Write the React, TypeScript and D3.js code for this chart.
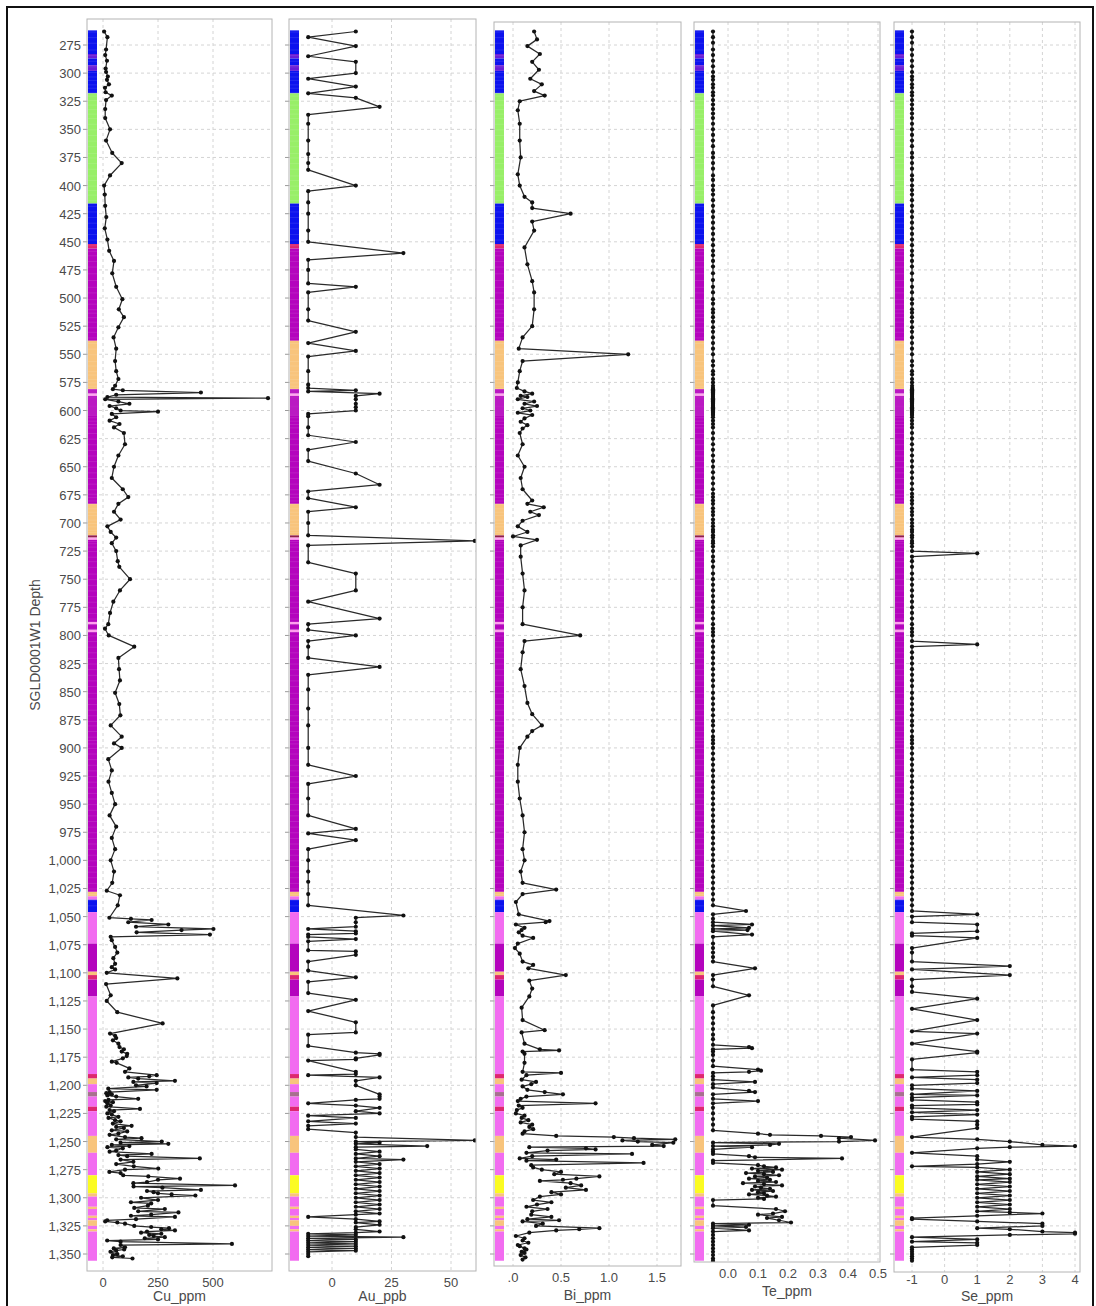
import React, { useEffect, useRef } from 'react';
import * as d3 from 'd3';

const W = 1096, H = 1306;
const FONT = '"Liberation Sans", Arial, sans-serif';

// ---- data: [depth, value] ----
const CU: [number, number][] = [
  [263,5],[268,20],[279,14],[284,10],[289,18],[296,12],[299,14],[303,22],[306,18],[310,27],[313,9],[317,12],[320,40],[324,14],[332,10],[340,10],[350,32],[360,14],[371,42],[380,85],[391,32],[400,5],[408,8],[418,10],[428,15],[438,8],[448,20],[458,28],[467,50],[478,42],[490,60],[501,88],[510,72],[517,95],[526,70],[535,48],[545,60],[556,55],[565,60],[572,70],[578,55],
  [581,45],[582,90],[584,445],[586,60],[588,20],[589,750],[590,10],[592,70],[594,120],[596,30],[598,60],[600,80],[601,250],[603,40],[606,60],[609,30],[612,75],[615,50],
  [620,95],[630,100],[640,70],[650,50],[660,40],[670,90],[677,115],[683,70],[690,50],[697,80],[703,20],[708,35],[713,60],[718,40],[725,60],
  [734,67],[739,74],[750,123],[760,77],[770,47],[780,32],[790,24],[794,9],[800,26],[810,142],[820,70],[830,73],[840,77],[851,55],[861,74],[871,79],[880,35],[890,85],[896,50],[900,85],[910,24],
  [920,40],[930,25],[940,40],[950,55],[960,30],[970,60],[980,40],[990,55],[1000,35],[1010,50],[1020,42],[1027,17],[1031,77],[1040,67],[1051,29],[1052,127],[1053,221],[1055,115],[1057,297],[1059,150],[1061,502],[1062,357],[1064,153],[1066,486],[1068,35],[1071,40],[1077,55],[1082,65],[1087,47],[1092,55],[1095,40],[1097,55],[1100,17],[1105,338],[1110,14],[1120,35],[1125,17],[1135,65],[1145,271],[1154,32],[1156,55],[1158,60],[1160,45],[1163,70],[1166,75],[1168,95],[1170,85],[1172,110],[1174,108],[1176,90],[1179,40],[1180,62],[1185,120],[1188,100],[1191,244],[1192,210],[1193,115],[1194,160],[1196,327],[1197,138],[1198,244],[1200,150],[1201,198],[1203,24],[1204,244],
  [1206,30],[1207,15],[1208,40],[1209,20],[1210,60],[1212,160],[1213,25],[1214,10],[1215,45],[1216,20],[1218,35],[1219,15],[1221,168],[1222,30],[1223,50],[1225,20],[1226,40],[1228,70],[1229,25],[1231,55],[1232,80],[1234,45],[1236,130],[1237,60],[1238,95],[1240,40],[1241,110],[1243,70],[1244,30],[1246,100],[1247,175],[1248,60],[1250,267],[1251,80],[1252,297],[1253,40],[1254,120],[1255,20],[1256,90],[1258,60],[1259,30],[1261,221],[1262,70],[1263,110],[1265,440],[1266,80],[1268,138],[1270,60],[1272,140],[1274,251],[1275,100],[1277,29],[1278,80],[1280,92],[1281,206],[1283,350],[1284,250],[1286,200],[1287,138],[1289,600],[1290,139],[1291,270],[1293,445],[1294,200],[1295,230],[1296,250],[1297,312],[1298,420],
  [1300,173],[1302,250],[1304,127],[1305,219],[1307,204],[1309,142],[1310,281],[1312,160],[1313,343],[1315,219],[1316,127],[1317,327],[1319,150],[1320,19],[1321,10],[1322,65],[1323,100],[1325,142],[1326,219],[1327,300],[1328,265],[1329,327],[1330,200],[1331,173],[1332,265],[1333,210],[1334,230],[1335,281],[1336,190],[1337,250],[1338,19],[1339,80],[1341,586],[1342,80],[1344,100],[1345,49],[1346,96],[1347,60],[1348,34],[1350,65],[1351,45],[1352,90],[1353,42],[1354,134],
];

const AU: [number, number][] = [
  [263,10],[268,-10],[276,10],[285,-10],[290,10],[300,10],[305,-10],[312,10],[318,-10],[322,10],[330,20],[337,-10],[345,-10],[360,-10],[372,-10],[380,-10],[386,-10],[400,10],[405,-10],[415,-10],[425,-10],[440,-10],[450,-10],[460,30],[466,-10],[475,-10],[487,-10],[490,10],[495,-10],[510,-10],[520,-10],[530,10],[540,-10],[547,10],[552,-10],[565,-10],[577,-10],[580,-10],[582,10],[583,-10],[585,20],[587,10],[590,10],[594,10],[597,10],[600,10],[603,-10],[605,-10],[615,-10],[622,-10],[628,10],[635,-10],[645,-10],[656,10],[666,20],[672,-10],[678,-10],[686,10],[690,-10],[700,-10],[711,-10],[716,60],[720,-10],[735,-10],[745,10],[760,10],[770,-10],[785,20],[790,-10],[795,-10],[800,10],[805,-10],[810,-10],[820,-10],[828,20],[835,-10],[848,-10],[865,-10],[880,-10],[900,-10],[915,-10],[925,10],[932,-10],[945,-10],[960,-10],[972,10],[976,-10],[982,10],[990,-10],[1000,-10],[1010,-10],[1019,-10],[1030,-10],[1040,-10],
  [1049,30],[1051,10],[1055,10],[1059,10],[1061,-10],[1063,10],[1065,10],[1066,-10],[1068,-10],[1070,10],[1072,-10],[1080,-10],[1081,10],[1084,10],[1090,-10],[1098,-10],[1104,10],[1108,-10],[1118,-10],[1124,10],[1134,-10],[1144,10],[1153,10],[1155,-10],[1165,-10],[1171,10],[1172,20],[1173,20],[1176,10],[1177,10],[1178,-10],[1188,10],[1190,10],[1191,-10],[1193,20],[1196,10],[1200,10],[1208,20],[1210,20],[1212,20],[1213,10],[1216,-10],[1218,10],[1220,20],[1223,10],[1225,20],[1227,-10],[1229,10],[1232,-10],[1234,10],[1236,-10],[1239,-10],[1242,10],[1246,10],[1249,60],[1250,10],[1251,20],[1252,10],[1254,40],[1255,10],[1257,10],[1259,20],[1261,10],[1263,20],[1265,10],[1266,30],[1268,10],[1270,20],[1272,10],[1274,20],[1276,10],[1278,20],[1280,10],[1282,20],[1284,10],[1286,20],[1288,10],[1290,20],[1292,10],[1294,20],[1296,10],[1298,20],[1300,10],[1302,20],[1304,10],[1306,20],[1308,10],[1310,20],[1312,10],[1314,20],[1315,10],[1317,-10],[1319,10],[1321,20],[1322,10],[1324,20],[1326,10],[1328,10],[1330,20],[1331,10],[1332,-10],[1333,10],[1334,-10],[1335,30],[1336,-10],[1337,10],[1338,-10],[1339,10],[1340,-10],[1341,10],[1342,-10],[1343,10],[1344,-10],[1345,10],[1346,-10],[1347,10],[1348,-10],[1350,-10],[1352,-10],
];

const BI: [number, number][] = [
  [263,0.22],[270,0.25],[276,0.15],[283,0.28],[290,0.2],[297,0.27],[305,0.18],[310,0.3],[316,0.22],[320,0.33],[325,0.07],[333,0.05],[345,0.07],[360,0.07],[375,0.08],[390,0.05],[400,0.07],[410,0.12],[415,0.2],[420,0.2],[425,0.6],[432,0.2],[440,0.22],[455,0.12],[470,0.15],[485,0.2],[495,0.22],[510,0.22],[525,0.2],[535,0.1],[545,0.06],[550,1.2],[556,0.1],[565,0.07],[575,0.05],[580,0.04],[583,0.12],[585,0.2],[587,0.08],[588,0.15],[590,0.05],[592,0.22],[594,0.12],[596,0.25],[598,0.1],[600,0.18],[602,0.05],[604,0.2],[607,0.12],[610,0.08],[613,0.15],[616,0.1],[620,0.07],[630,0.1],[640,0.05],[650,0.12],[660,0.08],[670,0.1],[680,0.2],[683,0.15],[686,0.32],[690,0.18],[693,0.27],[698,0.1],[703,0.05],[708,0.15],[712,0.0],[715,0.25],[720,0.08],[730,0.08],[745,0.1],[760,0.12],[775,0.1],[790,0.1],[800,0.7],[805,0.12],[815,0.1],[830,0.08],[845,0.12],[860,0.15],[870,0.2],[880,0.3],[885,0.2],[890,0.15],[900,0.07],[915,0.05],[930,0.05],[945,0.07],[960,0.1],[975,0.12],[990,0.1],[1000,0.12],[1010,0.08],[1020,0.1],[1026,0.45],[1030,0.1],
  [1037,0.03],[1048,0.06],[1054,0.38],[1055,0.34],[1057,0.03],[1060,0.12],[1062,0.09],[1064,0.06],[1067,0.1],[1069,0.21],[1074,0.05],[1078,0.02],[1083,0.07],[1090,0.1],[1093,0.21],[1096,0.16],[1102,0.55],[1107,0.17],[1114,0.2],[1121,0.17],[1131,0.09],[1142,0.1],[1151,0.33],[1153,0.09],[1163,0.12],[1168,0.28],[1169,0.48],[1170,0.1],[1172,0.12],[1180,0.12],[1188,0.1],[1189,0.5],[1191,0.14],[1195,0.09],[1197,0.24],[1199,0.19],[1201,0.1],[1204,0.15],[1206,0.33],[1208,0.52],[1210,0.14],[1212,0.08],[1214,0.05],[1216,0.86],[1218,0.06],[1220,0.1],[1222,0.04],[1225,0.03],[1227,0.12],[1229,0.09],[1231,0.16],[1233,0.08],[1235,0.2],[1237,0.17],[1239,0.21],[1241,0.12],[1243,0.1],[1245,0.45],[1246,1.05],[1247,1.26],[1248,1.69],[1249,1.14],[1250,1.3],[1251,1.67],[1253,1.45],[1254,1.57],[1255,0.17],[1256,0.76],[1257,0.86],[1258,0.36],[1260,0.14],[1261,1.24],[1263,0.2],[1265,0.07],[1266,0.45],[1267,0.14],[1269,1.36],[1271,0.19],[1273,0.21],[1275,0.3],[1277,0.5],[1279,0.43],[1281,0.9],[1283,0.66],[1284,0.52],[1285,0.28],[1287,0.6],[1289,0.71],[1291,0.55],[1293,0.76],[1295,0.4],[1297,0.5],[1299,0.28],[1302,0.21],[1304,0.4],[1306,0.25],[1308,0.14],[1310,0.36],[1312,0.2],[1315,0.19],[1317,0.4],[1319,0.15],[1320,0.48],[1321,0.1],[1323,0.31],[1325,0.24],[1327,0.9],[1328,0.69],[1329,0.45],[1331,0.17],[1334,0.03],[1336,0.12],[1338,0.1],[1340,0.16],[1342,0.05],[1343,0.07],[1345,0.12],[1346,0.14],[1348,0.09],[1349,0.12],[1351,0.08],[1353,0.13],[1355,0.1],
];

// sample depths in the upper hole where Te and Se sit at their detection limit
const SAMPLE_DEPTHS = [263,268,273,279,284,289,294,299,303,306,310,313,317,320,324,328,332,336,340,345,350,355,360,365,371,375,380,385,391,395,400,404,408,413,418,423,428,433,438,443,448,453,458,462,467,472,478,484,490,495,501,505,510,513,517,521,526,530,535,540,545,550,556,560,565,568,572,575,578,580,581,582,583,584,585,586,587,588,589,590,591,592,593,594,595,596,597,598,599,600,601,602,603,604,606,609,612,615,620,625,630,635,640,645,650,655,660,665,670,674,677,680,683,687,690,693,697,700,703,706,708,711,713,716,718,721,725,730,734,739,745,750,755,760,765,770,775,780,785,790,794,797,800,805,810,815,820,825,830,835,840,845,851,856,861,866,871,876,880,885,890,893,896,900,905,910,915,920,925,930,935,940,945,950,955,960,965,970,975,980,985,990,995,1000,1005,1010,1015,1020,1025,1030,1035,1040];
const TE_DL = -0.05;
const SE_DL = -1;

const TE_LOWER: [number, number][] = [
  [1045,0.06],[1048,-0.05],[1052,-0.05],[1055,-0.05],[1057,0.08],[1058,-0.05],[1060,0.07],[1061,-0.05],[1062,0.065],[1063,-0.05],[1066,0.08],[1068,-0.05],[1074,-0.05],[1078,-0.05],[1082,-0.05],[1086,-0.05],[1090,-0.05],[1096,0.09],[1102,-0.05],[1106,-0.05],[1112,-0.05],[1120,0.07],[1129,-0.05],[1135,-0.05],[1140,-0.05],[1145,-0.05],[1150,-0.05],[1155,-0.05],[1159,-0.05],[1164,-0.05],[1166,0.07],[1167,0.08],[1168,-0.05],[1170,-0.05],[1173,-0.05],[1178,-0.05],[1183,-0.05],[1186,0.1],[1187,0.11],[1188,0.07],[1189,-0.05],[1192,-0.05],[1195,-0.05],[1197,0.09],[1199,-0.05],[1202,-0.05],[1205,0.07],[1206,0.09],[1208,-0.05],[1212,-0.05],[1214,0.1],[1216,-0.05],[1220,-0.05],[1225,-0.05],[1230,-0.05],[1235,-0.05],[1240,-0.05],[1243,0.1],[1244,0.14],[1245,0.31],[1246,0.41],[1247,0.37],[1249,0.49],[1250,0.37],[1251,-0.05],[1252,0.17],[1253,0.14],[1254,-0.05],[1255,0.08],[1257,-0.05],[1259,-0.05],[1261,-0.05],[1263,0.07],[1264,0.09],[1265,0.38],[1267,-0.05],[1269,-0.05],
  [1271,0.1],[1272,0.12],[1273,0.16],[1274,0.08],[1275,0.18],[1276,0.1],[1277,0.15],[1278,0.06],[1279,0.12],[1280,0.17],[1281,0.09],[1282,0.13],[1283,0.07],[1284,0.14],[1285,0.1],[1286,0.16],[1287,0.05],[1288,0.12],[1289,0.18],[1290,0.09],[1291,0.11],[1292,0.14],[1293,0.08],[1294,0.15],[1295,0.1],[1296,0.12],[1297,0.07],[1298,0.13],[1299,0.16],[1300,0.1],[1301,0.12],[1302,-0.05],[1307,-0.05],[1310,0.16],[1312,0.19],[1314,0.15],[1315,0.1],[1317,0.18],[1318,0.13],[1320,0.17],[1322,0.21],[1323,-0.05],[1324,0.07],[1325,-0.05],[1326,0.06],[1327,-0.05],[1329,0.07],[1330,-0.05],[1333,-0.05],[1336,-0.05],[1339,-0.05],[1342,-0.05],[1345,-0.05],[1348,-0.05],[1351,-0.05],[1354,-0.05],[1356,-0.05],
];

const SE_SPIKES: [number, number][] = [[727,1],[808,1]];
const SE_LOWER: [number, number][] = [
  [1045,-1],[1048,1],[1050,-1],[1055,-1],[1057,1],[1063,1],[1065,-1],[1067,-1],[1069,1],[1078,-1],[1082,-1],[1090,-1],[1094,2],[1097,-1],[1102,2],[1106,-1],[1112,-1],[1117,-1],[1123,1],[1132,-1],[1142,1],[1152,-1],[1154,1],[1163,-1],[1170,1],[1171,1],[1177,-1],[1186,-1],[1188,1],[1191,1],[1193,-1],[1195,1],[1198,1],[1200,-1],[1203,-1],[1205,1],[1208,-1],[1209,1],[1211,-1],[1213,-1],[1215,1],[1217,1],[1218,-1],[1220,-1],[1222,1],[1224,-1],[1226,1],[1228,-1],[1230,-1],[1232,1],[1235,1],[1238,1],[1246,-1],[1248,1],[1250,2],[1253,3],[1254,4],[1255,2],[1256,1],[1260,-1],[1263,1],[1266,1],[1268,2],[1270,1],[1272,-1],[1273,1],[1275,2],[1277,1],[1279,2],[1281,1],[1283,2],[1284,1],[1286,2],[1288,1],[1290,2],[1292,1],[1294,2],[1296,1],[1298,2],[1300,1],[1302,2],[1304,1],[1306,2],[1308,1],[1310,2],[1312,1],[1313,2],[1314,3],[1316,1],[1318,-1],[1319,-1],[1321,1],[1323,3],[1325,3],[1327,1],[1328,2],[1330,3],[1331,4],[1332,4],[1333,2],[1335,-1],[1337,1],[1339,-1],[1340,1],[1342,1],[1344,-1],[1346,-1],[1348,-1],[1350,-1],[1352,-1],[1354,-1],[1356,-1],
];

// lithology log: [from, to, code]
const LITH: [number, number, string][] = [
  [262,283,'blue'],[283,287,'violet'],[287,293,'blue'],[293,298,'violet'],[298,318,'blue'],
  [318,416,'green'],[416,452,'blue'],[452,456,'red'],[456,538,'purple'],[538,581,'orange'],
  [581,585,'purple'],[585,587,'lpink'],[587,683,'purple'],[683,711,'orange'],[711,713,'dred'],[713,715,'lpink'],
  [715,788,'purple'],[788,790,'lpink'],[790,795,'purple'],[795,797,'lpink'],[797,1028,'purple'],
  [1028,1032,'orange'],[1032,1035,'pink'],[1035,1046,'blue'],[1046,1074,'pink'],[1074,1099,'purple'],
  [1099,1102,'orange'],[1102,1106,'red'],[1106,1121,'purple'],[1121,1190,'pink'],[1190,1194,'red'],
  [1194,1199,'orange'],[1199,1206,'pink'],[1206,1210,'mauve'],[1210,1219,'pink'],[1219,1223,'red'],
  [1223,1245,'pink'],[1245,1260,'orange'],[1260,1280,'pink'],[1280,1296,'yellow'],[1296,1299,'orange'],
  [1299,1308,'pink'],[1308,1310,'orange'],[1310,1316,'pink'],[1316,1318,'orange'],[1318,1320,'pink'],
  [1320,1325,'orange'],[1325,1328,'pink'],[1328,1330,'orange'],[1330,1356,'pink'],
];
const LITH_COLORS: Record<string, string> = {
  blue: '#0c12ee', violet: '#6a1cd6', green: '#98ef68', purple: '#b404bd', orange: '#f8c47c',
  pink: '#f26cf0', lpink: '#ff9fee', red: '#de2670', dred: '#8c1646', mauve: '#a7708f', yellow: '#fbfb22',
};

const DEPTH_TICKS = d3.range(275, 1351, 25);

const TE = [...SAMPLE_DEPTHS.map(d => [d, TE_DL] as [number, number]), ...TE_LOWER];
const SE = [...SAMPLE_DEPTHS.map(d => [d, SE_DL] as [number, number]), ...SE_SPIKES, ...SE_LOWER]
  .sort((a, b) => a[0] - b[0]);

const PANELS = [
  { id: 'cu', title: 'Cu_ppm', data: CU, left: 87, right: 272, top: 19, bottom: 1271,
    dom: [0, 500], px: [103, 213], ticks: [0, 250, 500], labels: ['0', '250', '500'], tickY: 1287, titleY: 1301 },
  { id: 'au', title: 'Au_ppb', data: AU, left: 289, right: 476, top: 19, bottom: 1271,
    dom: [0, 50], px: [332, 451], ticks: [0, 25, 50], labels: ['0', '25', '50'], tickY: 1287, titleY: 1301 },
  { id: 'bi', title: 'Bi_ppm', data: BI, left: 494, right: 681, top: 22, bottom: 1266,
    dom: [0, 1.5], px: [513, 657], ticks: [0, 0.5, 1, 1.5], labels: ['.0', '0.5', '1.0', '1.5'], tickY: 1282, titleY: 1300 },
  { id: 'te', title: 'Te_ppm', data: TE, left: 694, right: 880, top: 22, bottom: 1262,
    dom: [0, 0.5], px: [728, 878], ticks: [0, 0.1, 0.2, 0.3, 0.4, 0.5], labels: ['0.0', '0.1', '0.2', '0.3', '0.4', '0.5'], tickY: 1278, titleY: 1296 },
  { id: 'se', title: 'Se_ppm', data: SE, left: 894, right: 1080, top: 22, bottom: 1272,
    dom: [-1, 4], px: [912, 1075], ticks: [-1, 0, 1, 2, 3, 4], labels: ['-1', '0', '1', '2', '3', '4'], tickY: 1284, titleY: 1301 },
];

export default function App() {
  const ref = useRef<SVGSVGElement>(null);

  useEffect(() => {
    const svg = d3.select(ref.current);
    svg.selectAll('*').remove();

    const y = d3.scaleLinear().domain([275, 1350]).range([45, 1254]);

    svg.append('rect').attr('width', W).attr('height', H).attr('fill', '#fff');

    const defs = svg.append('defs');

    PANELS.forEach(p => {
      const x = d3.scaleLinear().domain(p.dom).range(p.px);
      const g = svg.append('g');

      defs.append('clipPath').attr('id', `clip-${p.id}`)
        .append('rect').attr('x', p.left).attr('y', p.top)
        .attr('width', p.right - p.left).attr('height', p.bottom - p.top);

      // grid
      g.selectAll('line.hg').data(DEPTH_TICKS).join('line')
        .attr('x1', p.left).attr('x2', p.right)
        .attr('y1', d => y(d)).attr('y2', d => y(d))
        .attr('stroke', '#d4d4d4').attr('stroke-dasharray', '3,3').attr('stroke-width', 1);
      g.selectAll('line.vg').data(p.ticks).join('line')
        .attr('x1', d => x(d)).attr('x2', d => x(d))
        .attr('y1', p.top).attr('y2', p.bottom)
        .attr('stroke', '#d4d4d4').attr('stroke-dasharray', '3,3').attr('stroke-width', 1);

      // left ticks
      g.selectAll('line.lt').data(DEPTH_TICKS).join('line')
        .attr('x1', p.left - 4).attr('x2', p.left)
        .attr('y1', d => y(d)).attr('y2', d => y(d))
        .attr('stroke', '#9a9a9a');

      // lithology strip
      const strip = g.append('g');
      strip.selectAll('rect').data(LITH).join('rect')
        .attr('x', p.left + 1).attr('width', 9)
        .attr('y', d => y(d[0])).attr('height', d => y(d[1]) - y(d[0]))
        .attr('fill', d => LITH_COLORS[d[2]]);
      strip.selectAll('line').data(SAMPLE_DEPTHS).join('line')
        .attr('x1', p.left + 1).attr('x2', p.left + 10)
        .attr('y1', d => y(d) + 0.5).attr('y2', d => y(d) + 0.5)
        .attr('stroke', '#fff').attr('stroke-opacity', 0.14).attr('stroke-width', 0.8);

      // series
      const line = d3.line<[number, number]>().x(d => x(d[1])).y(d => y(d[0]));
      const s = g.append('g').attr('clip-path', `url(#clip-${p.id})`);
      s.append('path').attr('d', line(p.data as [number, number][]))
        .attr('fill', 'none').attr('stroke', '#2a2a2a').attr('stroke-width', 1.25)
        .attr('stroke-linejoin', 'round');
      s.selectAll('circle').data(p.data).join('circle')
        .attr('cx', d => x(d[1])).attr('cy', d => y(d[0])).attr('r', 2.1)
        .attr('fill', '#111');

      // frame
      g.append('rect').attr('x', p.left).attr('y', p.top)
        .attr('width', p.right - p.left).attr('height', p.bottom - p.top)
        .attr('fill', 'none').attr('stroke', '#b4b4b4').attr('stroke-width', 1);

      // x tick labels + title
      g.selectAll('text.xt').data(p.ticks).join('text')
        .attr('x', d => x(d)).attr('y', p.tickY)
        .attr('text-anchor', 'middle').attr('font-family', FONT).attr('font-size', 13)
        .attr('fill', '#4a4a4a')
        .text((d, i) => p.labels[i]);
      g.append('text').attr('x', (p.left + p.right) / 2).attr('y', p.titleY)
        .attr('text-anchor', 'middle').attr('font-family', FONT).attr('font-size', 14)
        .attr('fill', '#4a4a4a').text(p.title);
    });

    // depth axis labels (first panel only)
    svg.append('g').selectAll('text').data(DEPTH_TICKS).join('text')
      .attr('x', 81).attr('y', d => y(d) + 5)
      .attr('text-anchor', 'end').attr('font-family', FONT).attr('font-size', 13)
      .attr('fill', '#4a4a4a').text(d => d3.format(',')(d));

    svg.append('text')
      .attr('transform', 'translate(40,645) rotate(-90)')
      .attr('text-anchor', 'middle').attr('font-family', FONT).attr('font-size', 14)
      .attr('fill', '#4a4a4a').text('SGLD0001W1 Depth');

    // outer frame
    svg.append('rect').attr('x', 7).attr('y', 7).attr('width', 1086).attr('height', 1330)
      .attr('fill', 'none').attr('stroke', '#111').attr('stroke-width', 2);
  }, []);

  return (
    <div style={{ position: 'absolute', left: 0, top: 0 }}>
      <svg ref={ref} width={W} height={H} style={{ display: 'block' }} />
    </div>
  );
}
